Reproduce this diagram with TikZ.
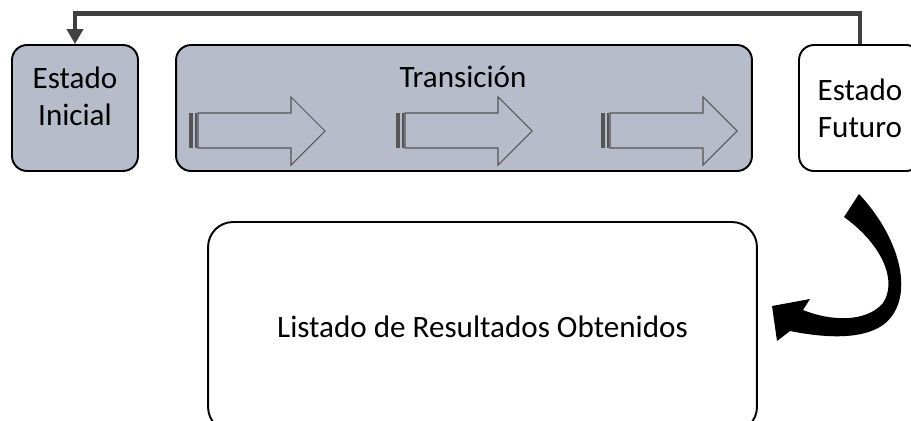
\documentclass[tikz,border=0pt]{standalone}
\usepackage{fontspec}
\setmainfont{Carlito}
\usetikzlibrary{positioning,arrows.meta}

\definecolor{relleno}{RGB}{182,188,202}
\definecolor{linea}{RGB}{64,64,64}
\definecolor{flechagris}{RGB}{85,85,85}

\tikzset{
  caja/.style={shape=rectangle, draw=black, line width=1.1pt, rounded corners=0.3cm, align=center},
  texto/.style={align=center, inner sep=0pt},
  retorno/.style={draw=linea, line width=2.8pt, -{Triangle[length=0.3cm,width=0.32cm]}},
}

\begin{document}
\begin{tikzpicture}[x=0.02cm, y=-0.02cm, font=\fontsize{17.7}{21}\selectfont]
    \clip[use as bounding box] (0,0) rectangle (911,420);
    \fill[white] (0,0) rectangle (911,420);
    % boxes
    \node[caja, fill=relleno, minimum width=2.52cm, minimum height=2.52cm] at (75,108) (ini) {};
    \node[texto] at (75,96) (tini) {Estado\\Inicial};
    \node[caja, fill=relleno, minimum width=11.52cm, minimum height=2.52cm] at (464,108) (tra) {};
    \node[texto, anchor=base] at (463,87) (ttra) {Transición};
    \node[caja, minimum width=2.44cm, minimum height=2.52cm] at (860,108) (fut) {Estado\\Futuro};
    \node[caja, rounded corners=0.5cm, minimum width=10.98cm, minimum height=4.2cm] at (482.5,327) (lis) {Listado de Resultados Obtenidos};
    % striped arrows
    \foreach \x in {189,396,601} {
        \fill[flechagris] (\x,113) rectangle ({\x+4},148);
        \fill[flechagris] ({\x+6},113) rectangle ({\x+8},148);
        \draw[flechagris, line width=0.6pt] ({\x+9},113) -- ({\x+102},113) -- ({\x+102},97) -- ({\x+136},131)
            -- ({\x+102},165) -- ({\x+102},148) -- ({\x+9},148) -- cycle;
    }
    % return line
    \draw[retorno] (fut.north) -- ++(0,-31) -| (ini.north);
    % curved arrow
    \fill[black] (859,194) .. controls (902,240) and (916,300) .. (883,325)
        .. controls (860,341) and (820,337) .. (790,331) -- (777,341) -- (772,306) -- (810,299) -- (803,310)
        .. controls (830,321) and (866,323) .. (883,303)
        .. controls (897,282) and (884,246) .. (844,217) -- cycle;
\end{tikzpicture}
\end{document}
